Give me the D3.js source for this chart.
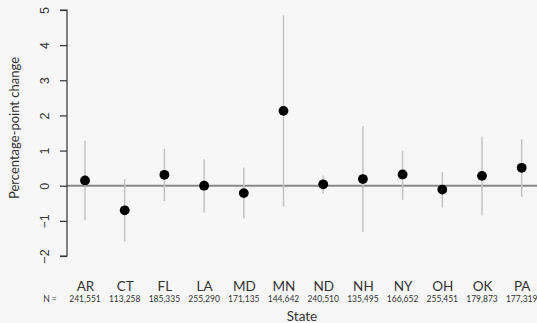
<!DOCTYPE html>
<html>
<head>
<meta charset="utf-8">
<script src="https://cdn.jsdelivr.net/npm/d3@7"></script>
<style>
  html, body { margin: 0; padding: 0; background: #f7f7f7; }
  svg { display: block; font-family: Lato, sans-serif; }
</style>
</head>
<body>
<svg id="chart" width="537" height="323"></svg>
<script>
// Percentage-point change by state, with confidence intervals and sample sizes
const states = ["AR", "CT", "FL", "LA", "MD", "MN", "ND", "NH", "NY", "OH", "OK", "PA"];
const estimate = [0.15, -0.70, 0.31, 0.00, -0.21, 2.13, 0.04, 0.19, 0.32, -0.11, 0.28, 0.51];
const lower = [-0.98, -1.59, -0.44, -0.76, -0.93, -0.59, -0.23, -1.32, -0.40, -0.62, -0.85, -0.32];
const upper = [1.28, 0.19, 1.05, 0.75, 0.52, 4.85, 0.29, 1.70, 1.00, 0.39, 1.40, 1.32];
const sampleN = ["241,551", "113,258", "185,335", "255,290", "171,135", "144,642",
                 "240,510", "135,495", "166,652", "255,451", "179,873", "177,319"];
const yTicks = [-2, -1, 0, 1, 2, 3, 4, 5];

const svg = d3.select("#chart");
const left = 67, right = 537;

const y = d3.scaleLinear().domain([-2, 5]).range([256, 10]);
const x = d3.scalePoint().domain(states).range([85, 521.7]);

// zero reference line
svg.append("line")
  .attr("x1", left).attr("x2", right)
  .attr("y1", y(0)).attr("y2", y(0))
  .attr("stroke", "#888").attr("stroke-width", 2);

// y axis
const yAxis = d3.axisLeft(y).tickValues(yTicks).tickSize(7).tickFormat(d3.format("d"));
const gy = svg.append("g").attr("transform", `translate(${left},0)`).call(yAxis);
gy.select(".domain").attr("stroke", "#333").attr("stroke-width", 1.2)
  .attr("d", `M-7,${y(5)}H0V${y(-2)}H-7`);
gy.selectAll(".tick line").attr("stroke", "#333").attr("stroke-width", 1.2);
gy.selectAll(".tick text")
  .attr("fill", "#333").attr("font-size", 12.5)
  .attr("text-anchor", "middle")
  .attr("x", 0).attr("y", 0).attr("dy", "0.35em")
  .attr("transform", "translate(-22,0) rotate(-90)");

// y label
svg.append("text")
  .attr("transform", `translate(19,${(y(5) + y(-2)) / 2 - 5}) rotate(-90)`)
  .attr("text-anchor", "middle")
  .attr("font-size", 13).attr("fill", "#333")
  .text("Percentage-point change");

// interval whiskers
svg.append("g").selectAll("line").data(states).join("line")
  .attr("x1", d => x(d)).attr("x2", d => x(d))
  .attr("y1", (d, i) => y(lower[i])).attr("y2", (d, i) => y(upper[i]))
  .attr("stroke", "#c4c4c4").attr("stroke-width", 1.5);

// point estimates
svg.append("g").selectAll("circle").data(states).join("circle")
  .attr("cx", d => x(d)).attr("cy", (d, i) => y(estimate[i]))
  .attr("r", 4.9).attr("fill", "#000");

// category labels
const xAxis = d3.axisBottom(x).tickSize(0).tickPadding(0);
const gx = svg.append("g").attr("transform", "translate(0,291)").call(xAxis);
gx.select(".domain").remove();
gx.selectAll(".tick text").attr("font-size", 13.5).attr("fill", "#333")
  .attr("font-family", "Lato, sans-serif").attr("dy", 0);

// sample sizes
svg.append("g").selectAll("text").data(states).join("text")
  .attr("x", d => x(d)).attr("y", 302)
  .attr("text-anchor", "middle").attr("font-size", 8.5).attr("fill", "#333")
  .text((d, i) => sampleN[i]);
svg.append("text").attr("x", 50).attr("y", 302)
  .attr("text-anchor", "middle").attr("font-size", 8.5).attr("fill", "#333")
  .text("N =");

// x label
svg.append("text")
  .attr("x", (left + right) / 2).attr("y", 320.5)
  .attr("text-anchor", "middle").attr("font-size", 13.5).attr("fill", "#333")
  .text("State");
</script>
</body>
</html>
